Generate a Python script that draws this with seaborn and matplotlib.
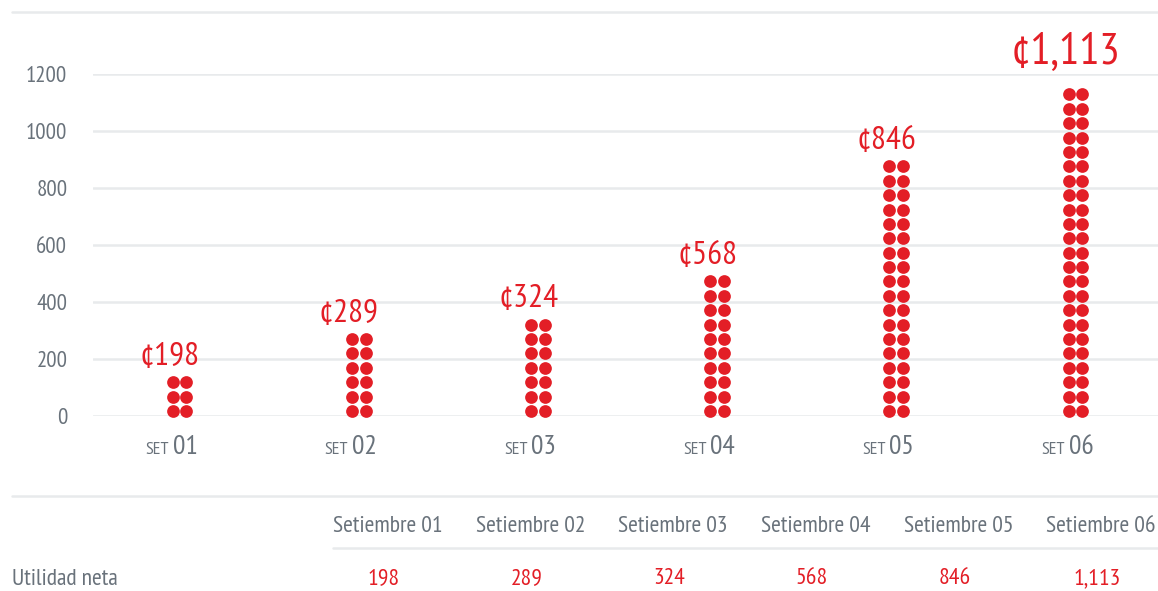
import numpy as np
import pandas as pd
import matplotlib.pyplot as plt
import seaborn as sns
from matplotlib import font_manager
from matplotlib.lines import Line2D

categories = ['01', '02', '03', '04', '05', '06']
utilidad = [198, 289, 324, 568, 846, 1113]
value_labels = ['¢198', '¢289', '¢324', '¢568', '¢846', '¢1,113']
dot_rows = [3, 6, 7, 10, 18, 23]
yticks = [0, 200, 400, 600, 800, 1000, 1200]
table_headers = ['Setiembre 01', 'Setiembre 02', 'Setiembre 03',
                 'Setiembre 04', 'Setiembre 05', 'Setiembre 06']
table_values = ['198', '289', '324', '568', '846', '1,113']
row_label = 'Utilidad neta'

RED = '#E31E26'
GREY = '#69727B'
LINE = '#E8EAEC'

sns.set_theme(style='white')
names = {f.name for f in font_manager.fontManager.ttflist}
wanted = ['PT Sans Narrow', 'Fira Sans Condensed', 'Barlow Semi Condensed',
          'Archivo Narrow', 'Liberation Sans Narrow', 'Liberation Sans']
main_font = next(n for n in wanted if n in names or n == 'Liberation Sans')
plt.rcParams['font.family'] = [main_font, 'DejaVu Sans']

W, H = 1158, 591


def fx(p):
    return p / W


def fy(p):
    return 1 - p / H


# dots: 2 per row, stacked from the bottom
step, base, half = 50.5, 17.5, 0.039
rows = []
for i, n in enumerate(dot_rows):
    for r in range(n):
        for side in (-half, half):
            rows.append({'x': i + side, 'y': base + r * step, 'set': categories[i]})
dots = pd.DataFrame(rows)

fig = plt.figure(figsize=(W / 100, H / 100), dpi=100)
ax = fig.add_axes([fx(93), fy(416), 1 - fx(93), (416 - 74) / H])

sns.scatterplot(x='x', y='y', data=dots, color=RED, s=84, linewidth=0,
                ax=ax, clip_on=False, legend=False, zorder=3)

ax.set_xlim(-0.4827, 5.4604)
ax.set_ylim(0, 1200)
ax.set_yticks(yticks)
ax.set_yticklabels([str(t) for t in yticks])
ax.set_xticks([])
ax.set_xlabel('')
ax.set_ylabel('')
ax.yaxis.grid(True, color=LINE, lw=1.8)
ax.set_axisbelow(True)
for s in ax.spines.values():
    s.set_visible(False)
ax.tick_params(axis='y', length=0, pad=18.5, labelsize=16.5, labelcolor=GREY)

# value labels above each column
for i, (lab, n) in enumerate(zip(value_labels, dot_rows)):
    big = i == len(value_labels) - 1
    ax.annotate(lab, xy=(i, base + (n - 1) * step), xytext=(-7, 22 if big else 12.5),
                textcoords='offset points', ha='center', va='baseline',
                fontsize=32.5 if big else 24, color=RED)

# category labels "SET 01"
trans = ax.get_xaxis_transform()
for i, c in enumerate(categories):
    ax.annotate('SET', xy=(i, -0.111), xycoords=trans, xytext=(-7.5, 0),
                textcoords='offset points', ha='right', va='baseline',
                fontsize=13, color=GREY)
    ax.annotate(c, xy=(i, -0.111), xycoords=trans, xytext=(-5, 0),
                textcoords='offset points', ha='left', va='baseline',
                fontsize=20, color=GREY)

# frame lines
fig.add_artist(Line2D([fx(12), 1], [fy(12), fy(12)], color=LINE, lw=1.8))
fig.add_artist(Line2D([fx(12), 1], [fy(496), fy(496)], color=LINE, lw=1.8))
fig.add_artist(Line2D([fx(333), 1], [fy(548), fy(548)], color=LINE, lw=1.8))

# table
for i, (h, v) in enumerate(zip(table_headers, table_values)):
    cx = fx(388 + 142.6 * i)
    fig.text(cx, fy(532), h, ha='center', va='baseline', fontsize=17, color=GREY)
    fig.text(cx - fx(4), fy(584), v, ha='center', va='baseline', fontsize=17, color=RED)
fig.text(fx(12), fy(585), row_label, ha='left', va='baseline', fontsize=17, color=GREY)

fig.savefig('out.png', dpi=100)
